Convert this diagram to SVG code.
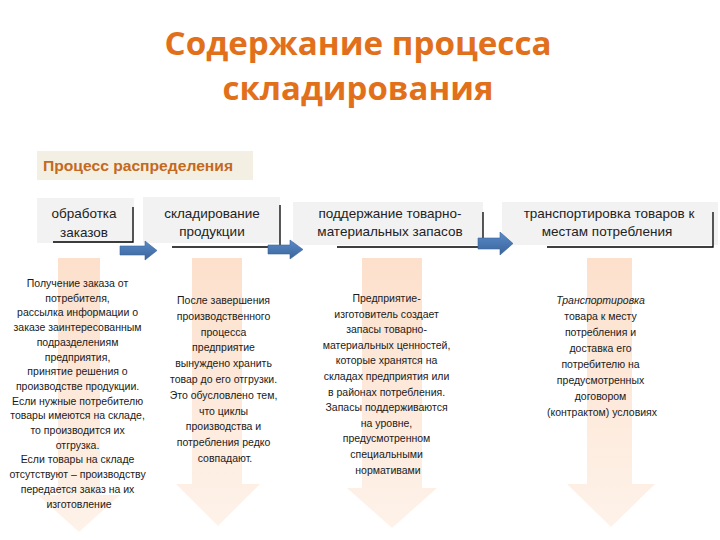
<svg xmlns="http://www.w3.org/2000/svg" width="720" height="540" viewBox="0 0 720 540">
<defs>
<linearGradient id="og" x1="0" y1="0" x2="0" y2="1">
<stop offset="0" stop-color="#FCE0CC"/>
<stop offset="1" stop-color="#FEF2E9"/>
</linearGradient>
<linearGradient id="bg" x1="0" y1="0" x2="0" y2="1">
<stop offset="0" stop-color="#5A8ACB"/>
<stop offset="1" stop-color="#3A6598"/>
</linearGradient>
<style>
.title{font-family:"Open Sans","Liberation Sans",sans-serif;font-weight:700;font-size:32px;fill:#E2701A;text-anchor:middle}
.hdr{font-family:"Liberation Sans",sans-serif;font-weight:700;font-size:14px;fill:#C4691E}
.box{fill:#F2F2F2}
.shadow{fill:none;stroke:#000;stroke-width:1.3}
.bt{font-family:"Liberation Sans",sans-serif;font-size:13.5px;fill:#222;text-anchor:middle}
.ct{font-family:"Liberation Sans",sans-serif;font-size:10.5px;fill:#1a1a1a;text-anchor:middle}
.down{fill:url(#og)}
.blue{fill:url(#bg);stroke:#3A6598;stroke-width:0.6}
</style>
</defs>
<rect width="720" height="540" fill="#FFFFFF"/>
<g id="title">
<text class="title" x="358" y="55" textLength="387" lengthAdjust="spacingAndGlyphs">Содержание процесса</text>
<text class="title" x="358" y="100" textLength="271" lengthAdjust="spacingAndGlyphs">складирования</text>
</g>
<g id="header">
<rect x="37" y="151" width="216" height="29" fill="#F3F0E3"/>
<text class="hdr" x="43" y="171" textLength="190" lengthAdjust="spacingAndGlyphs">Процесс распределения</text>
</g>
<g id="col1">
<path class="down" d="M58,258 H100 V495 H120 L79,532 L38,495 H58 Z"/>
<text class="ct" x="79">
<tspan x="79" y="287">Получение заказа от</tspan>
<tspan x="79" y="301.7">потребителя,</tspan>
<tspan x="79" y="316.4">рассылка информации о</tspan>
<tspan x="79" y="331.1">заказе заинтересованным</tspan>
<tspan x="79" y="345.8">подразделениям</tspan>
<tspan x="79" y="360.5">предприятия,</tspan>
<tspan x="79" y="375.2">принятие решения о</tspan>
<tspan x="79" y="389.9">производстве продукции.</tspan>
<tspan x="79" y="404.6">Если нужные потребителю</tspan>
<tspan x="79" y="419.3">товары имеются на складе,</tspan>
<tspan x="79" y="434">то производится их</tspan>
<tspan x="79" y="448.7">отгрузка.</tspan>
<tspan x="79" y="463.4">Если товары на складе</tspan>
<tspan x="79" y="478.1">отсутствуют – производству</tspan>
<tspan x="79" y="492.8">передается заказ на их</tspan>
<tspan x="79" y="507.5">изготовление</tspan>
</text>
</g>
<g id="col2">
<path class="down" d="M192,258 H242 V484 H260 L218,526 L176,484 H192 Z"/>
<text class="ct">
<tspan x="225" y="304">После завершения</tspan>
<tspan x="225" y="319.8">производственного</tspan>
<tspan x="225" y="335.6">процесса</tspan>
<tspan x="225" y="351.4">предприятие</tspan>
<tspan x="225" y="367.2">вынуждено хранить</tspan>
<tspan x="225" y="383">товар до его отгрузки.</tspan>
<tspan x="225" y="398.8">Это обусловлено тем,</tspan>
<tspan x="225" y="414.6">что циклы</tspan>
<tspan x="225" y="430.4">производства и</tspan>
<tspan x="225" y="446.2">потребления редко</tspan>
<tspan x="225" y="462">совпадают.</tspan>
</text>
</g>
<g id="col3">
<path class="down" d="M362,258 H422 V488 H437 L392,528 L347,488 H362 Z"/>
<text class="ct">
<tspan x="388" y="302">Предприятие-</tspan>
<tspan x="388" y="317.6">изготовитель создает</tspan>
<tspan x="388" y="333.2">запасы товарно-</tspan>
<tspan x="388" y="348.8">материальных ценностей,</tspan>
<tspan x="388" y="364.4">которые хранятся на</tspan>
<tspan x="388" y="380">складах предприятия или</tspan>
<tspan x="388" y="395.6">в районах потребления.</tspan>
<tspan x="388" y="411.2">Запасы поддерживаются</tspan>
<tspan x="388" y="426.8">на уровне,</tspan>
<tspan x="388" y="442.4">предусмотренном</tspan>
<tspan x="388" y="458">специальными</tspan>
<tspan x="388" y="473.6">нормативами</tspan>
</text>
</g>
<g id="col4">
<path class="down" d="M587,258 H632 V484 H655 L611,527 L567,484 H587 Z"/>
<text class="ct">
<tspan x="602" y="304" font-style="italic">Транспортировка</tspan>
<tspan x="602" y="320">товара к месту</tspan>
<tspan x="602" y="336">потребления и</tspan>
<tspan x="602" y="352">доставка его</tspan>
<tspan x="602" y="368">потребителю на</tspan>
<tspan x="602" y="384">предусмотренных</tspan>
<tspan x="602" y="400">договором</tspan>
<tspan x="602" y="416">(контрактом) условиях</tspan>
</text>
</g>
<g id="node1">
<rect class="box" x="37" y="198" width="97" height="45"/>
<polyline class="shadow" points="133,207 133,242 53,242"/>
<text class="bt" x="84" y="218">обработка</text>
<text class="bt" x="84" y="237">заказов</text>
</g>
<g id="node2">
<rect class="box" x="143" y="197" width="137" height="46"/>
<polyline class="shadow" points="280,205 280,247 172,247"/>
<text class="bt" x="212" y="218">складирование</text>
<text class="bt" x="212" y="236">продукции</text>
</g>
<g id="node3">
<rect class="box" x="293" y="202" width="190" height="43"/>
<polyline class="shadow" points="483,212 483,247 337,247"/>
<text class="bt" x="390" y="218">поддержание товарно-</text>
<text class="bt" x="390" y="236">материальных запасов</text>
</g>
<g id="node4">
<rect class="box" x="502" y="202" width="216" height="43"/>
<polyline class="shadow" points="713,212 713,247 547,247"/>
<text class="bt" x="609" y="218">транспортировка товаров к</text>
<text class="bt" x="607" y="236">местам потребления</text>
</g>
<g id="connectors">
<path class="blue" d="M120,246 H145 V241 L157,250.5 L145,260 V255 H120 Z"/>
<path class="blue" d="M268,245 H290 V240 L303,249.5 L290,259 V254 H268 Z"/>
<path class="blue" d="M478,238 H500 V232 L513,243.5 L500,255 V249 H478 Z"/>
</g>
</svg>
